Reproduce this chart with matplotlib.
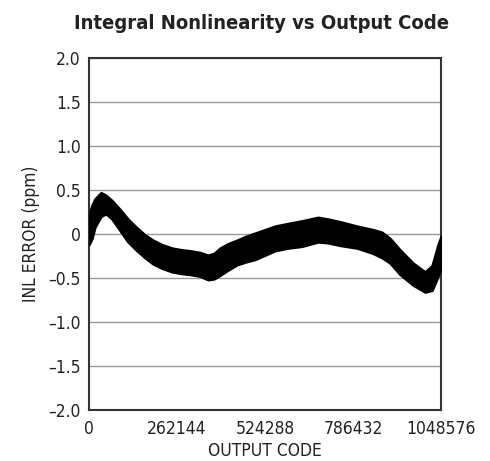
import matplotlib
matplotlib.use("Agg")
import matplotlib.pyplot as plt

# INL band: output code, upper and lower edge (ppm)
codes = [0, 8900, 17900, 35700, 50600, 68500, 92300, 116200, 140000, 166800,
         190700, 217500, 247300, 277000, 300900, 330700, 354500, 372400, 390200,
         414100, 440900, 464700, 494500, 524300, 554100, 592800, 634500, 682200,
         712000, 747700, 798400, 846000, 872800, 896700, 926500, 965200, 1000900,
         1021800, 1039700, 1048576]
inl_upper = [0.22, 0.33, 0.40, 0.47, 0.44, 0.38, 0.28, 0.17, 0.08, -0.01,
             -0.07, -0.12, -0.16, -0.18, -0.19, -0.21, -0.24, -0.22, -0.16,
             -0.11, -0.07, -0.03, 0.01, 0.05, 0.09, 0.12, 0.15, 0.19,
             0.17, 0.14, 0.09, 0.05, 0.02, -0.05, -0.18, -0.33, -0.43,
             -0.36, -0.12, -0.03]
inl_lower = [-0.12, -0.05, 0.08, 0.20, 0.23, 0.17, 0.04, -0.09, -0.18, -0.27,
             -0.34, -0.39, -0.43, -0.45, -0.46, -0.48, -0.52, -0.51, -0.47,
             -0.41, -0.35, -0.32, -0.29, -0.24, -0.19, -0.16, -0.14, -0.09,
             -0.10, -0.13, -0.16, -0.22, -0.27, -0.33, -0.46, -0.58, -0.66,
             -0.64, -0.48, -0.38]

x_ticks = [0, 262144, 524288, 786432, 1048576]
y_ticks = [-2.0, -1.5, -1.0, -0.5, 0, 0.5, 1.0, 1.5, 2.0]
y_labels = ["\u20132.0", "\u20131.5", "\u20131.0", "\u20130.5", "0", "0.5", "1.0", "1.5", "2.0"]

plt.rcParams['font.family'] = ['DejaVu Sans']
plt.rcParams['font.stretch'] = 'condensed'

fig = plt.figure(figsize=(4.9, 4.61), dpi=100)
ax = fig.add_axes([89 / 490, 1 - 410 / 461, 352 / 490, 352 / 461])

# noisy INL trace drawn as a filled band
ax.fill_between(codes, inl_lower, inl_upper, color='black', lw=1.8, edgecolor='black', zorder=3)

ax.set_xlim(0, 1048576)
ax.set_ylim(-2.0, 2.0)
ax.set_xticks(x_ticks)
ax.set_xticklabels([str(t) for t in x_ticks])
ax.set_yticks(y_ticks)
ax.set_yticklabels(y_labels)
ax.tick_params(length=0, labelsize=12.5, colors='#222222')
ax.tick_params(axis='y', pad=6)
ax.tick_params(axis='x', pad=7)

ax.yaxis.grid(True, color='#999999', lw=1.0)
ax.set_axisbelow(True)
for s in ax.spines.values():
    s.set_color('#333333')
    s.set_linewidth(1.5)

ax.set_xlabel('OUTPUT CODE', fontsize=12.5, color='#222222', labelpad=3)
ax.set_ylabel('INL ERROR (ppm)', fontsize=12.5, color='#222222', labelpad=6)
fig.text(0.533, 0.948, 'Integral Nonlinearity vs Output Code', ha='center', va='center',
         fontsize=14.5, fontweight='bold', color='#222222')

fig.savefig('out.png', dpi=100)
